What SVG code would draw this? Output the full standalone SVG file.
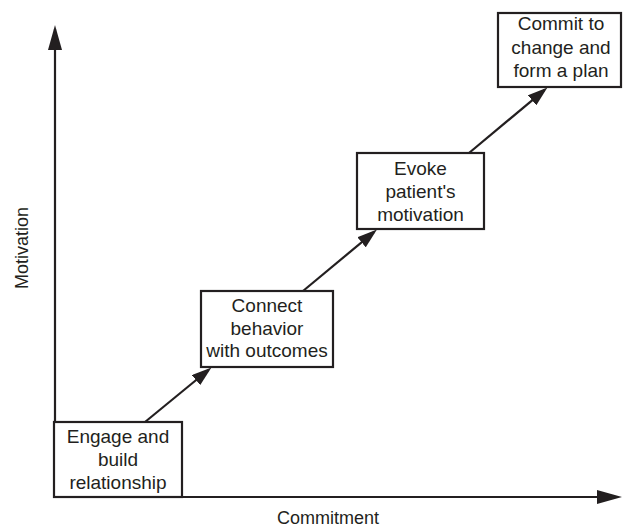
<svg xmlns="http://www.w3.org/2000/svg" width="623" height="527" viewBox="0 0 623 527">
<style>
.box{fill:#fff;stroke:#231f20;stroke-width:2.2}
.lbl{font-family:"Liberation Sans",Arial,sans-serif;font-size:19px;fill:#231f20;text-anchor:middle}
.axl{font-family:"Liberation Sans",Arial,sans-serif;font-size:18px;fill:#231f20;text-anchor:middle}
.ln{stroke:#231f20;stroke-width:2.2;fill:none}
</style>
<defs>
<marker id="axh" markerUnits="userSpaceOnUse" viewBox="0 0 25 14" markerWidth="25" markerHeight="14" refX="21" refY="7" orient="auto">
<path d="M0,0 L25,7 L0,14 z" fill="#231f20"/>
</marker>
<marker id="cah" markerUnits="userSpaceOnUse" viewBox="0 0 20 13" markerWidth="20" markerHeight="13" refX="16" refY="6.5" orient="auto">
<path d="M0,0 L20,6.5 L0,13 z" fill="#231f20"/>
</marker>
</defs>
<rect width="623" height="527" fill="#fff"/>
<g id="axes">
<line class="ln" x1="55" y1="498" x2="55" y2="29" marker-end="url(#axh)"/>
<line class="ln" x1="54" y1="497" x2="618" y2="497" marker-end="url(#axh)"/>
<text class="axl" transform="translate(28,248) rotate(-90)">Motivation</text>
<text class="axl" x="328" y="524">Commitment</text>
</g>
<g id="connectors">
<line class="ln" x1="145" y1="422" x2="208.4" y2="370" marker-end="url(#cah)"/>
<line class="ln" x1="303" y1="291" x2="373.9" y2="232.1" marker-end="url(#cah)"/>
<line class="ln" x1="469" y1="153" x2="544.4" y2="90.1" marker-end="url(#cah)"/>
</g>
<g id="node1">
<rect class="box" x="54" y="422" width="128" height="75"/>
<text class="lbl" x="118" y="443">Engage and</text>
<text class="lbl" x="118" y="466">build</text>
<text class="lbl" x="118" y="489">relationship</text>
</g>
<g id="node2">
<rect class="box" x="201" y="291" width="132" height="76"/>
<text class="lbl" x="267" y="312">Connect</text>
<text class="lbl" x="267" y="335">behavior</text>
<text class="lbl" x="267" y="357">with outcomes</text>
</g>
<g id="node3">
<rect class="box" x="357" y="153" width="127" height="76"/>
<text class="lbl" x="420.5" y="175">Evoke</text>
<text class="lbl" x="420.5" y="198">patient's</text>
<text class="lbl" x="420.5" y="221">motivation</text>
</g>
<g id="node4">
<rect class="box" x="498" y="13" width="123" height="74"/>
<text class="lbl" x="561" y="30">Commit to</text>
<text class="lbl" x="561" y="54">change and</text>
<text class="lbl" x="561" y="77">form a plan</text>
</g>
</svg>
